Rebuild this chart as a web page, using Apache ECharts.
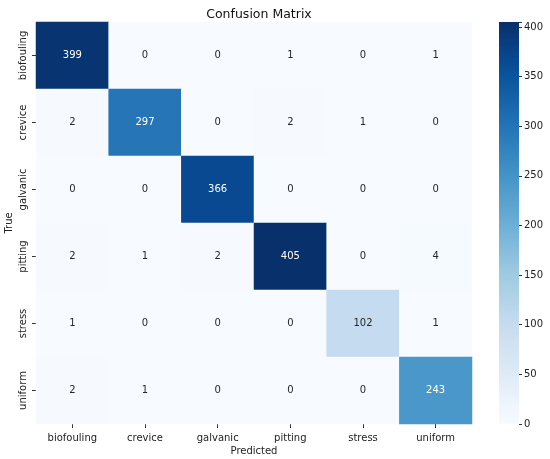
<!DOCTYPE html>
<html>
<head>
<meta charset="utf-8">
<script src="https://cdn.jsdelivr.net/npm/echarts@6/dist/echarts.min.js"></script>
<style>
  html, body { margin: 0; padding: 0; background: #fff; }
  #main { width: 550px; height: 459px; }
</style>
</head>
<body>
<div id="main"></div>
<script>
var classes = ["biofouling", "crevice", "galvanic", "pitting", "stress", "uniform"];
// rows = true class, columns = predicted class
var matrix = [
  [399, 0, 0, 1, 0, 1],
  [2, 297, 0, 2, 1, 0],
  [0, 0, 366, 0, 0, 0],
  [2, 1, 2, 405, 0, 4],
  [1, 0, 0, 0, 102, 1],
  [2, 1, 0, 0, 0, 243]
];
var colorbarTicks = [0, 50, 100, 150, 200, 250, 300, 350, 400];
var vmin = 0;
var vmax = 405;

var blues = ["#f7fbff", "#deebf7", "#c6dbef", "#9ecae1", "#6baed6", "#4292c6", "#2171b5", "#08519c", "#08306b"];
var font = "DejaVu Sans";

var chartDom = document.getElementById("main");
var myChart = echarts.init(chartDom);

var cells = [];
matrix.forEach(function (row, i) {
  row.forEach(function (v, j) {
    cells.push({
      value: [j, i, v],
      label: { color: v > 200 ? "#ffffff" : "#262626" }
    });
  });
});

var stops = blues.map(function (c, k) {
  return { offset: k / (blues.length - 1), color: c };
});

var option = {
  backgroundColor: "#ffffff",
  animation: false,
  title: {
    text: "Confusion Matrix",
    left: 254,
    top: 3,
    textAlign: "center",
    textStyle: { fontFamily: font, fontSize: 12.5, fontWeight: "normal", color: "#111" }
  },
  grid: [
    { left: 36, top: 22, right: 78, bottom: 35, outerBoundsMode: "none", containLabel: false },
    { left: 499, top: 22, width: 20, bottom: 35, outerBoundsMode: "none", containLabel: false }
  ],
  xAxis: [
    {
      type: "category",
      gridIndex: 0,
      data: classes,
      position: "bottom",
      name: "Predicted",
      nameLocation: "middle",
      nameGap: 22,
      nameMoveOverlap: false,
      nameTextStyle: { fontFamily: font, fontSize: 10, color: "#222" },
      axisLine: { show: false },
      axisTick: { show: true, alignWithLabel: true, length: 4, lineStyle: { color: "#333" } },
      axisLabel: { fontFamily: font, fontSize: 10, color: "#222", margin: 9 },
      splitLine: { show: false }
    },
    {
      type: "category",
      gridIndex: 1,
      data: [""],
      show: false
    }
  ],
  yAxis: [
    {
      type: "category",
      gridIndex: 0,
      data: classes,
      inverse: true,
      name: "True",
      nameLocation: "middle",
      nameGap: 22,
      nameMoveOverlap: false,
      nameRotate: 90,
      nameTextStyle: { fontFamily: font, fontSize: 10, color: "#222" },
      axisLine: { show: false },
      axisTick: { show: true, alignWithLabel: true, length: 4, lineStyle: { color: "#333" } },
      axisLabel: { fontFamily: font, fontSize: 10, color: "#222", rotate: 90, margin: 8 },
      splitLine: { show: false }
    },
    {
      type: "value",
      gridIndex: 1,
      position: "right",
      min: vmin,
      max: vmax,
      interval: 50,
      axisLine: { show: false },
      axisTick: { show: true, length: 3, lineStyle: { color: "#333" } },
      axisLabel: {
        fontFamily: font, fontSize: 10, color: "#222", margin: 5,
        formatter: function (v) { return colorbarTicks.indexOf(v) >= 0 ? String(v) : ""; }
      },
      splitLine: { show: false }
    }
  ],
  visualMap: {
    show: false,
    type: "continuous",
    seriesIndex: 0,
    dimension: 2,
    min: vmin,
    max: vmax,
    inRange: { color: blues }
  },
  series: [
    {
      type: "heatmap",
      xAxisIndex: 0,
      yAxisIndex: 0,
      data: cells,
      label: { show: true, fontFamily: font, fontSize: 10 },
      itemStyle: { borderWidth: 0 },
      emphasis: { disabled: true }
    },
    {
      type: "bar",
      xAxisIndex: 1,
      yAxisIndex: 1,
      data: [vmax],
      barWidth: "100%",
      itemStyle: {
        color: new echarts.graphic.LinearGradient(0, 1, 0, 0, stops)
      },
      silent: true
    }
  ]
};

option && myChart.setOption(option);
</script>
</body>
</html>
